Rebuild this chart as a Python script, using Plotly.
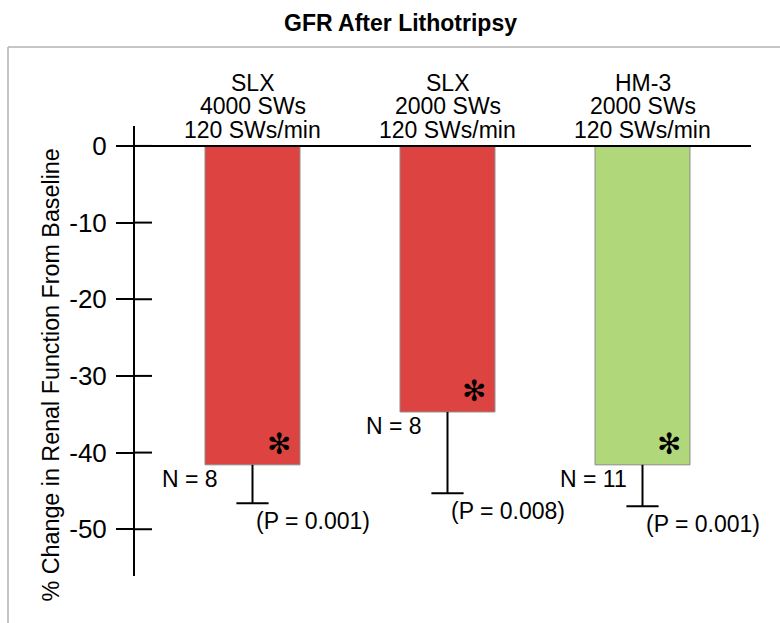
import plotly.graph_objects as go

# ---------------- data ----------------
groups = ["SLX", "SLX", "HM-3"]
shock_counts = ["4000 SWs", "2000 SWs", "2000 SWs"]
rates = ["120 SWs/min", "120 SWs/min", "120 SWs/min"]
pct_change = [-41.6, -34.7, -41.6]
sem = [5.0, 10.6, 5.4]
n_labels = ["N = 8", "N = 8", "N = 11"]
p_labels = ["(P = 0.001)", "(P = 0.008)", "(P = 0.001)"]
bar_colors = ["#DD4441", "#DD4441", "#B0D87B"]
tick_values = [0, -10, -20, -30, -40, -50]
tick_labels = ["0", "-10", "-20", "-30", "-40", "-50"]

# ---------------- layout geometry ----------------
W, H = 780, 623
ML, MR, MT, MB = 135, 29, 126, 47
PW, PH = W - ML - MR, H - MT - MB
FONT = "Liberation Sans, Arial, Helvetica, sans-serif"

def px_x(px):
    return (px - ML) / PW

def px_y(py):
    return (H - MB - py) / PH

xs = list(range(len(groups)))
err_low = [v - e for v, e in zip(pct_change, sem)]

fig = go.Figure()

fig.add_trace(go.Bar(
    x=xs, y=pct_change, width=0.487,
    marker=dict(color=bar_colors, line=dict(color="#8a8a8a", width=1)),
    showlegend=False, hoverinfo="skip",
))

# one-sided (downward) error bars
stem_x, stem_y = [], []
for x, v, lo in zip(xs, pct_change, err_low):
    stem_x += [x, x, None]
    stem_y += [v, lo, None]
fig.add_trace(go.Scatter(
    x=stem_x, y=stem_y, mode="lines",
    line=dict(color="black", width=2), showlegend=False, hoverinfo="skip",
))
fig.add_trace(go.Scatter(
    x=xs, y=err_low, mode="markers",
    marker=dict(symbol="line-ew", size=23, line=dict(color="black", width=2)),
    showlegend=False, hoverinfo="skip",
))

annotations = []
# category labels (three lines each)
line_shifts = [43.5, 20.5, -3.5]
for x, g, s, r in zip(xs, groups, shock_counts, rates):
    for txt, ys in zip([g, s, r], line_shifts):
        annotations.append(dict(
            x=x, xref="x", y=1, yref="paper", yshift=ys,
            text=txt, showarrow=False, xanchor="center", yanchor="middle",
            height=23, valign="middle",
            font=dict(family=FONT, size=23, color="black"),
        ))

# asterisks
for x, v in zip(xs, pct_change):
    annotations.append(dict(
        x=x, y=v, xref="x", yref="y", xshift=26.5, yshift=20.5,
        text="\u273B", showarrow=False, xanchor="center", yanchor="middle",
        font=dict(family="DejaVu Sans", size=29, color="black"),
    ))

# N labels
n_shifts = [-32.5, -23.5, -13.5]
for x, v, t, xsft in zip(xs, pct_change, n_labels, n_shifts):
    annotations.append(dict(
        x=x, y=v, xref="x", yref="y", xshift=xsft, yshift=-14.5,
        text=t, showarrow=False, xanchor="right", yanchor="middle",
        font=dict(family=FONT, size=23, color="black"),
    ))

# P labels
for x, lo, t in zip(xs, err_low, p_labels):
    annotations.append(dict(
        x=x, y=lo, xref="x", yref="y", xshift=1, yshift=-18,
        text=t, showarrow=False, xanchor="left", yanchor="middle",
        font=dict(family=FONT, size=23, color="black"),
    ))

# y axis title
annotations.append(dict(
    x=px_x(50), xref="paper", y=px_y(375.5), yref="paper",
    text="% Change in Renal Function From Baseline", textangle=-90,
    showarrow=False, xanchor="center", yanchor="middle",
    font=dict(family=FONT, size=23.3, color="black"),
))

shapes = []
# outer frame: only top and left edges are visible in the picture
frame_line = dict(color="#b3b3b3", width=1.5)
shapes.append(dict(
    type="line", xref="paper", yref="paper",
    x0=px_x(8), x1=px_x(W), y0=px_y(47), y1=px_y(47), line=frame_line, layer="below",
))
shapes.append(dict(
    type="line", xref="paper", yref="paper",
    x0=px_x(8), x1=px_x(8), y0=px_y(47), y1=px_y(H), line=frame_line, layer="below",
))
# zero line extended left of axis
shapes.append(dict(
    type="line", xref="paper", yref="y", x0=px_x(118), x1=1, y0=0, y1=0,
    line=dict(color="black", width=2),
))
# inner half of crossing tick marks
for tv in tick_values:
    shapes.append(dict(
        type="line", xref="paper", yref="y", x0=0, x1=px_x(152), y0=tv, y1=tv,
        line=dict(color="black", width=2),
    ))

fig.update_layout(
    width=W, height=H,
    margin=dict(l=ML, r=MR, t=MT, b=MB, pad=0),
    paper_bgcolor="white", plot_bgcolor="white",
    title=dict(
        text="<b>GFR After Lithotripsy</b>", x=400.5 / W, xanchor="center",
        y=1 - 23 / H, yanchor="middle",
        font=dict(family=FONT, size=23, color="black"),
    ),
    xaxis=dict(visible=False, range=[(ML - 252.5) / 195, (ML + PW - 252.5) / 195]),
    yaxis=dict(
        range=[-56.1, 2.6], showgrid=False, zeroline=False,
        showline=True, linecolor="black", linewidth=2,
        ticks="outside", ticklen=17, tickwidth=2, tickcolor="black",
        tickvals=tick_values, ticktext=tick_labels, ticklabelstandoff=4,
        tickfont=dict(family=FONT, size=26, color="black"),
    ),
    annotations=annotations, shapes=shapes, showlegend=False,
)

fig.write_html("out.html")
